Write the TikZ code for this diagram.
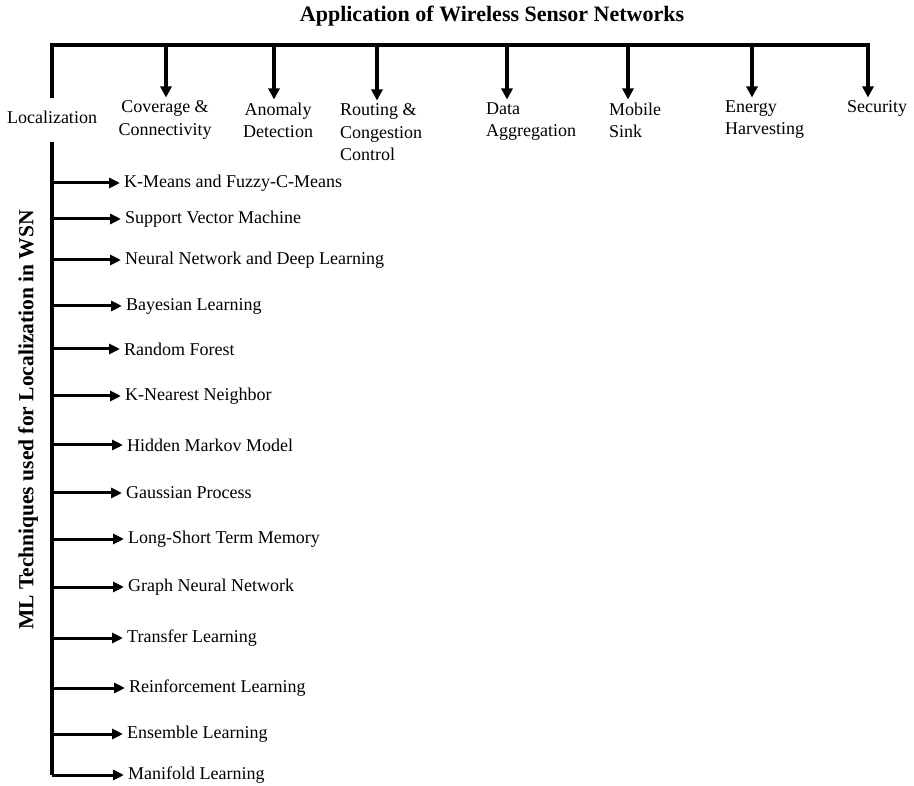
\documentclass[tikz,border=0pt]{standalone}
\usepackage{fontspec}
\setmainfont{Liberation Serif}
\usetikzlibrary{arrows.meta}
\begin{document}
\begin{tikzpicture}[x=1pt,y=-1pt,
  barline/.style={line width=3.2pt},
  darr/.style={line width=3.2pt,line join=miter,-{Triangle[length=11pt,width=11pt]}},
  sarr/.style={line width=3pt,-{Triangle[length=11pt,width=10pt]}},
  lab/.style={font=\fontsize{18}{22.5}\selectfont, inner xsep=1pt, inner ysep=3pt},
  tech/.style={font=\fontsize{18}{22}\selectfont, anchor=west, inner xsep=4pt, inner ysep=1pt},
]
\useasboundingbox (0,0) rectangle (914,786);
\node[font=\bfseries\fontsize{22}{26}\selectfont] (title) at (492,16) {Application of Wireless Sensor Networks};

\coordinate (b0) at (52,45);
\coordinate (b1) at (166,45);
\coordinate (b2) at (274,45);
\coordinate (b3) at (377,45);
\coordinate (b4) at (507,45);
\coordinate (b5) at (628,45);
\coordinate (b6) at (752,45);
\coordinate (b7) at (868,45);

\node[lab, anchor=base, text height=12pt, text depth=4pt, inner ysep=14pt, inner xsep=0pt] (loc) at (52,124) {Localization};
\node[lab, anchor=north, align=center] (cov) at (165,97.5) {Coverage \&\\Connectivity};
\node[lab, anchor=north, align=center] (ano) at (278,99.5) {Anomaly\\Detection};
\node[lab, anchor=north west, align=left] (rou) at (339,100.5) {Routing \&\\Congestion\\Control};
\node[lab, anchor=north west, align=left] (dat) at (485,99.5) {Data\\Aggregation};
\node[lab, anchor=north west, align=left] (mob) at (608,99.5) {Mobile\\Sink};
\node[lab, anchor=north west, align=left] (ene) at (724,97.5) {Energy\\Harvesting};
\node[lab, anchor=north west, align=left] (sec) at (846,97.5) {Security};

\draw[darr] (loc.north) -- (b0) -- (b7) -- (b7 |- sec.north);
\draw[darr] (b1) -- (b1 |- cov.north);
\draw[darr] (b2) -- (b2 |- ano.north);
\draw[darr] (b3) -- (b3 |- rou.north);
\draw[darr] (b4) -- (b4 |- dat.north);
\draw[darr] (b5) -- (b5 |- mob.north);
\draw[darr] (b6) -- (b6 |- ene.north);

\node[rotate=90, font=\bfseries\fontsize{21.5}{24}\selectfont] (ml) at (28,420) {ML Techniques used for Localization in WSN};

\node[tech] (t1) at (120,183) {K-Means and Fuzzy-C-Means};
\node[tech] (t2) at (121,219) {Support Vector Machine};
\node[tech] (t3) at (121,260) {Neural Network and Deep Learning};
\node[tech] (t4) at (122,306) {Bayesian Learning};
\node[tech] (t5) at (120,349) {Random Forest};
\node[tech] (t6) at (121,396) {K-Nearest Neighbor};
\node[tech] (t7) at (123,445) {Hidden Markov Model};
\node[tech] (t8) at (122,493) {Gaussian Process};
\node[tech] (t9) at (124,539) {Long-Short Term Memory};
\node[tech] (t10) at (124,587) {Graph Neural Network};
\node[tech] (t11) at (123,638) {Transfer Learning};
\node[tech] (t12) at (125,688) {Reinforcement Learning};
\node[tech] (t13) at (123,734) {Ensemble Learning};
\node[tech] (t14) at (124,775) {Manifold Learning};

\draw[barline] (loc.south) -- (loc.south |- t14.west);
\foreach \i in {1,...,14}{
  \draw[sarr] (loc.south |- t\i.west) -- (t\i.west);
}
\end{tikzpicture}
\end{document}
